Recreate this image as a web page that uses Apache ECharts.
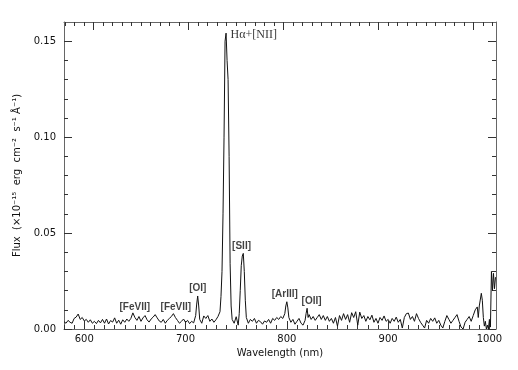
<!DOCTYPE html>
<html>
<head>
<meta charset="utf-8">
<script src="https://cdn.jsdelivr.net/npm/echarts@6/dist/echarts.min.js"></script>
<style>
  html, body { margin: 0; padding: 0; background: #fff; }
  #chart { width: 518px; height: 370px; }
</style>
</head>
<body>
<div id="chart"></div>
<script>
// observed wavelength (nm) and flux (1e-15 erg/cm2/s/A)
var wave = [
  580, 582, 584, 586, 588, 590, 592, 594, 596, 598,
  600, 602, 604, 606, 608, 610, 612, 614, 616, 618,
  620, 622, 624, 626, 628, 630, 632, 634, 636, 638,
  640, 642, 644, 646, 648, 650, 652, 654, 656, 658,
  660, 662, 664, 666, 668, 670, 672, 674, 676, 678,
  680, 682, 684, 686, 688, 690, 692, 694, 696, 698,
  700, 702, 704, 706, 708, 710, 711, 712, 713, 714,
  716, 718, 720, 722, 724, 726, 728, 730, 732, 734,
  735, 736, 737, 738, 739, 740, 741, 742, 743, 744,
  745, 746, 748, 750, 752, 753, 754, 755, 756, 757,
  758, 759, 760, 762, 764, 766, 768, 770, 772, 774,
  776, 778, 780, 782, 784, 786, 788, 790, 792, 794,
  796, 798, 799, 800, 801, 802, 804, 806, 808, 810,
  812, 814, 816, 818, 819, 820, 821, 822, 824, 826,
  828, 830, 832, 834, 836, 838, 840, 842, 844, 846,
  848, 850, 852, 854, 856, 858, 860, 862, 864, 866,
  868, 870, 872, 874, 876, 878, 880, 882, 884, 886,
  888, 890, 892, 894, 896, 898, 900, 902, 904, 906,
  908, 910, 912, 914, 916, 918, 920, 922, 924, 926,
  928, 930, 932, 934, 936, 938, 940, 942, 944, 946,
  948, 950, 952, 954, 956, 958, 960, 962, 964, 966,
  968, 970, 972, 974, 976, 978, 980, 982, 984, 986,
  988, 989, 990, 992, 993, 994, 995, 996, 997, 998,
  999, 1000, 1001, 1002, 1003, 1004, 1005, 1006
]
var flux = [
  .0038, .0030, .0045, .0035, .0030, .0055, .0062, .0078, .0050, .0060,
  .0042, .0050, .0035, .0048, .0030, .0040, .0028, .0045, .0032, .0050,
  .0030, .0052, .0026, .0044, .0036, .0058, .0030, .0046, .0025, .0048,
  .0035, .0052, .0040, .0055, .0084, .0060, .0045, .0065, .0040, .0058,
  .0070, .0048, .0036, .0052, .0062, .0075, .0058, .0042, .0035, .0050,
  .0030, .0045, .0055, .0065, .0080, .0060, .0045, .0030, .0040, .0052,
  .0035, .0045, .0028, .0040, .0032, .0070, .0130, .0172, .0120, .0050,
  .0030, .0068, .0055, .0070, .0040, .0052, .0035, .0048, .0065, .0090,
  .0170, .0300, .0600, .1000, .1500, .1542, .1400, .1300, .0900, .0340,
  .0120, .0050, .0030, .0064, .0020, .0080, .0200, .0330, .0380, .0394,
  .0300, .0150, .0060, .0030, .0050, .0040, .0055, .0030, .0045, .0038,
  .0025, .0042, .0035, .0050, .0030, .0055, .0045, .0060, .0050, .0065,
  .0055, .0080, .0120, .0142, .0110, .0060, .0035, .0050, .0025, .0040,
  .0055, .0030, .0020, .0045, .0080, .0108, .0060, .0075, .0050, .0065,
  .0045, .0060, .0075, .0050, .0070, .0045, .0065, .0040, .0055, .0030,
  .0060, .0015, .0070, .0045, .0080, .0050, .0075, .0035, .0085, .0060,
  .0090, .0020, .0088, .0055, .0070, .0040, .0065, .0048, .0072, .0035,
  .0055, .0030, .0060, .0045, .0068, .0040, .0050, .0030, .0055, .0040,
  .0062, .0035, .0050, .0005, .0060, .0080, .0083, .0050, .0065, .0040,
  .0080, .0055, .0035, .0020, .0005, .0045, .0030, .0055, .0040, .0058,
  .0030, .0045, .0020, .0005, .0040, .0070, .0050, .0030, .0045, .0060,
  .0075, .0040, .0010, .0000, .0035, .0050, .0065, .0040, .0070, .0100,
  .0115, .0060, .0120, .0186, .0150, .0060, .0015, .0040, .0000, .0020,
  .0000, .0050, .0010, .0300, .0200, .0290, .0210, .0270
]

var lineNames = ['H\u03b1+[NII]', '[FeVII]', '[FeVII]', '[OI]', '[SII]', '[ArIII]', '[OII]']
var lineWave = [744.4, 649.9, 690.4, 712.1, 755.3, 798.0, 824.4]
var lineFlux = [0.1531, 0.0112, 0.0112, 0.0210, 0.0429, 0.0182, 0.0146]

var xMajor = [600, 700, 800, 900, 1000]
var xMinor = [
  580, 590, 610, 620, 630, 640, 650, 660, 670, 680, 690, 710, 720, 730, 740, 750,
  760, 770, 780, 790, 810, 820, 830, 840, 850, 860, 870, 880, 890, 910, 920, 930,
  940, 950, 960, 970, 980, 990
]
// top axis is on its own scale (no labels)
var topMajor = [0, 100, 200, 300, 400]
var topMinor = [
  -30, -20, -10, 10, 20, 30, 40, 50, 60, 70, 80, 90, 110, 120, 130, 140, 150, 160, 170,
  180, 190, 210, 220, 230, 240, 250, 260, 270, 280, 290, 310, 320, 330, 340, 350, 360,
  370, 380, 390, 410, 420
]
var yMajor = [0, 0.05, 0.10, 0.15]
var yMinor = [0.01, 0.02, 0.03, 0.04, 0.06, 0.07, 0.08, 0.09, 0.11, 0.12, 0.13, 0.14]

var axisColor = '#666'
var font = 'DejaVu Sans'

function xAxisOf (pos, min, max, ticks, len, withLine) {
  return {
    type: 'value',
    position: pos,
    min: min,
    max: max,
    axisLine: { show: withLine, onZero: false, lineStyle: { color: axisColor, width: 1 } },
    axisTick: { show: true, inside: true, length: len, customValues: ticks, lineStyle: { color: '#333' } },
    axisLabel: { show: false },
    splitLine: { show: false }
  }
}
function yAxisOf (pos, ticks, len, withLine) {
  return {
    type: 'value',
    position: pos,
    min: 0,
    max: 0.16,
    axisLine: { show: withLine, onZero: false, lineStyle: { color: axisColor, width: 1 } },
    axisTick: { show: true, inside: true, length: len, customValues: ticks, lineStyle: { color: '#333' } },
    axisLabel: { show: false },
    splitLine: { show: false }
  }
}

var xBottom = xAxisOf('bottom', 580, 1006.5, xMajor, 8, true)
xBottom.axisLabel = {
  show: true, customValues: xMajor, margin: 5,
  color: '#111', fontFamily: font, fontSize: 10,
  formatter: function (v) { return String(v) }
}
xBottom.name = 'Wavelength (nm)'
xBottom.nameLocation = 'middle'
xBottom.nameGap = 18
xBottom.nameTextStyle = { color: '#111', fontFamily: font, fontSize: 10, verticalAlign: 'top' }

var yLeft = yAxisOf('left', yMajor, 8, true)
yLeft.axisLabel = {
  show: true, customValues: yMajor, margin: 8,
  color: '#111', fontFamily: font, fontSize: 10,
  formatter: function (v) { return v.toFixed(2) }
}
yLeft.name = 'Flux  (\u00d710\u207b\u00b9\u2075  erg  cm\u207b\u00b2  s\u207b\u00b9 \u00c5\u207b\u00b9)'
yLeft.nameLocation = 'middle'
yLeft.nameGap = 35
yLeft.nameTextStyle = { color: '#111', fontFamily: font, fontSize: 10 }

var labelData = lineNames.map(function (n, i) {
  var item = { value: [lineWave[i], lineFlux[i]], name: n }
  if (i === 0) {
    item.label = {
      position: 'right', distance: 0, color: '#000',
      fontFamily: 'Liberation Serif', fontSize: 12, fontWeight: 'normal'
    }
  }
  return item
})

var chart = echarts.init(document.getElementById('chart'), null, { renderer: 'canvas' })
chart.setOption({
  animation: false,
  backgroundColor: '#fff',
  grid: { left: 64, right: 22, top: 22, bottom: 41, containLabel: false },
  xAxis: [
    xBottom,
    xAxisOf('bottom', 580, 1006.5, xMinor, 4, false),
    xAxisOf('top', -30.8, 423.9, topMajor, 8, true),
    xAxisOf('top', -30.8, 423.9, topMinor, 4, false)
  ],
  yAxis: [
    yLeft,
    yAxisOf('left', yMinor, 4, false),
    yAxisOf('right', yMajor, 8, true),
    yAxisOf('right', yMinor, 4, false)
  ],
  series: [
    {
      type: 'line',
      xAxisIndex: 0,
      yAxisIndex: 0,
      symbol: 'none',
      lineStyle: { color: '#111', width: 1 },
      data: wave.map(function (w, i) { return [w, flux[i]] })
    },
    {
      type: 'scatter',
      xAxisIndex: 0,
      yAxisIndex: 0,
      symbolSize: 0,
      silent: true,
      label: {
        show: true,
        position: 'inside',
        formatter: '{b}',
        color: '#111',
        fontFamily: 'Liberation Sans',
        fontWeight: 'bold',
        fontSize: 10
      },
      data: labelData
    }
  ]
})
</script>
</body>
</html>
